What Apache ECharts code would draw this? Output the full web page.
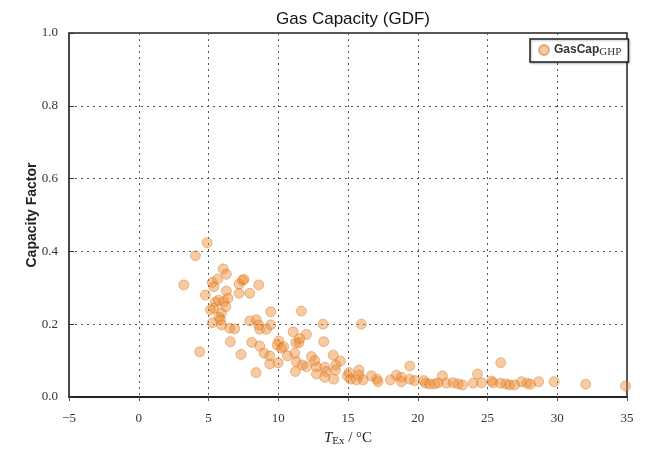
<!DOCTYPE html>
<html>
<head>
<meta charset="utf-8">
<script src="https://cdn.jsdelivr.net/npm/echarts@6/dist/echarts.min.js"></script>
<style>
    html, body { margin: 0; padding: 0; background: #fff; }
    #chart { width: 650px; height: 450px; }
</style>
</head>
<body>
<div id="chart"></div>
<script>
// exhaust temperature (°C) and capacity factor
const tempEx = [
    4.90, 4.06, 3.23, 6.05, 6.28, 5.26, 5.38, 5.66, 4.78, 6.28,
    6.40, 7.19, 7.43, 7.55, 7.19, 7.96, 8.60, 5.50, 5.73, 6.09,
    6.24, 5.14, 5.38, 5.93, 5.76, 5.86, 5.28, 5.93, 6.52, 6.88,
    6.57, 4.37, 7.33, 7.96, 8.43, 8.60, 8.67, 9.15, 9.46, 9.46,
    8.10, 8.67, 8.98, 9.39, 9.39, 8.41, 9.99, 10.04, 9.92, 10.23,
    10.39, 10.66, 11.06, 11.25, 11.49, 11.18, 11.66, 12.02, 11.54, 11.30,
    11.73, 12.02, 12.38, 12.74, 11.23, 12.74, 13.21, 15.96, 13.26, 13.93,
    14.46, 14.12, 12.62, 13.33, 13.45, 13.98, 14.10, 13.33, 14.96, 15.08,
    15.18, 15.79, 15.79, 15.61, 16.08, 16.68, 17.08, 17.15, 18.04, 18.47,
    18.83, 18.83, 19.43, 19.43, 19.78, 20.43, 20.57, 20.86, 21.22, 21.46,
    21.77, 22.06, 22.53, 22.89, 23.21, 23.97, 24.28, 24.57, 25.29, 25.40,
    25.95, 25.93, 26.31, 26.59, 26.95, 27.43, 27.83, 28.08, 28.67, 29.77,
    32.04, 34.89
]
const capFactor = [
    0.424, 0.388, 0.308, 0.352, 0.337, 0.315, 0.303, 0.324, 0.280, 0.291,
    0.271, 0.310, 0.321, 0.323, 0.285, 0.285, 0.308, 0.261, 0.266, 0.262,
    0.248, 0.239, 0.244, 0.230, 0.219, 0.212, 0.204, 0.198, 0.189, 0.187,
    0.152, 0.124, 0.117, 0.209, 0.212, 0.198, 0.186, 0.186, 0.198, 0.234,
    0.150, 0.140, 0.120, 0.113, 0.091, 0.067, 0.094, 0.154, 0.143, 0.134,
    0.138, 0.113, 0.179, 0.149, 0.149, 0.120, 0.236, 0.172, 0.161, 0.097,
    0.088, 0.083, 0.111, 0.083, 0.070, 0.063, 0.200, 0.200, 0.152, 0.115,
    0.099, 0.088, 0.100, 0.082, 0.070, 0.049, 0.074, 0.054, 0.058, 0.067,
    0.049, 0.074, 0.060, 0.047, 0.047, 0.058, 0.049, 0.042, 0.047, 0.060,
    0.054, 0.042, 0.085, 0.049, 0.045, 0.045, 0.038, 0.036, 0.036, 0.039,
    0.058, 0.038, 0.039, 0.036, 0.033, 0.038, 0.063, 0.039, 0.044, 0.039,
    0.094, 0.038, 0.036, 0.033, 0.033, 0.042, 0.038, 0.035, 0.042, 0.042,
    0.035, 0.030
]

const X_TICKS = [-5, 0, 5, 10, 15, 20, 25, 30, 35]
const Y_TICKS = [0.0, 0.2, 0.4, 0.6, 0.8, 1.0]

const SERIF = '"Liberation Serif", "DejaVu Serif", serif'
const SANS = '"Liberation Sans", Arial, sans-serif'

const chart = echarts.init(document.getElementById('chart'))

const option = {
    animation: false,
    backgroundColor: '#fff',
    title: {
        text: 'Gas Capacity (GDF)',
        left: 348,
        textAlign: 'center',
        top: 6,
        textStyle: { fontFamily: SANS, fontSize: 17, fontWeight: 'normal', color: '#111' }
    },
    legend: {
        left: 530,
        top: 39,
        padding: [5, 7, 4, 8],
        itemWidth: 10,
        itemHeight: 10,
        itemGap: 4,
        borderColor: '#222',
        borderWidth: 1.5,
        borderRadius: 0,
        backgroundColor: '#fff',
        shadowColor: 'rgba(0,0,0,0.25)',
        shadowBlur: 2,
        shadowOffsetX: 1,
        shadowOffsetY: 1,
        formatter: () => '{a|GasCap}{b|GHP}',
        textStyle: {
            rich: {
                a: { fontFamily: SANS, fontSize: 12, fontWeight: 'bold', color: '#333' },
                b: { fontFamily: SERIF, fontSize: 11, color: '#333', padding: [5, 0, 0, 0] }
            }
        }
    },
    grid: {
        left: 69,
        right: 23,
        top: 33,
        bottom: 53,
        outerBoundsMode: 'none',
        show: true,
        borderColor: '#222',
        borderWidth: 1.5
    },
    xAxis: {
        type: 'value',
        min: X_TICKS[0],
        max: X_TICKS[X_TICKS.length - 1],
        interval: 5,
        name: '{i|T}{s|Ex} / °C',
        nameLocation: 'middle',
        nameGap: 33,
        nameMoveOverlap: false,
        nameTextStyle: {
            rich: {
                i: { fontFamily: SERIF, fontStyle: 'italic', fontSize: 15, color: '#222' },
                s: { fontFamily: SERIF, fontSize: 11, color: '#222', padding: [6, 0, 0, 0] }
            },
            fontFamily: SERIF,
            fontSize: 15,
            color: '#222'
        },
        axisLine: { onZero: false, lineStyle: { color: '#222', width: 2 } },
        axisTick: { show: true, inside: false, length: 4, lineStyle: { color: '#555' } },
        axisLabel: {
            margin: 15,
            fontFamily: SERIF,
            fontSize: 13,
            color: '#333',
            formatter: v => String(v).replace('-', '\u2212')
        },
        splitLine: { show: true, lineStyle: { type: [2, 4], color: '#555', width: 1 } }
    },
    yAxis: {
        type: 'value',
        min: Y_TICKS[0],
        max: Y_TICKS[Y_TICKS.length - 1],
        interval: 0.2,
        name: 'Capacity Factor',
        nameLocation: 'middle',
        nameGap: 30,
        nameMoveOverlap: false,
        nameTextStyle: { fontFamily: SANS, fontSize: 14, fontWeight: 'bold', color: '#222' },
        axisLine: { onZero: false, lineStyle: { color: '#444', width: 1.5 } },
        axisTick: { show: true, inside: true, length: 5, lineStyle: { color: '#333' } },
        axisLabel: {
            margin: 11,
            fontFamily: SERIF,
            fontSize: 13,
            color: '#333',
            formatter: v => v.toFixed(1)
        },
        splitLine: { show: true, lineStyle: { type: [2, 4], color: '#555', width: 1 } }
    },
    series: [{
        name: 'GasCapGHP',
        type: 'scatter',
        symbolSize: 10,
        itemStyle: {
            color: 'rgba(240, 135, 40, 0.55)',
            borderColor: 'rgba(200, 105, 20, 0.6)',
            borderWidth: 0.8
        },
        data: tempEx.map((t, i) => [t, capFactor[i]])
    }]
}

chart.setOption(option)
</script>
</body>
</html>
